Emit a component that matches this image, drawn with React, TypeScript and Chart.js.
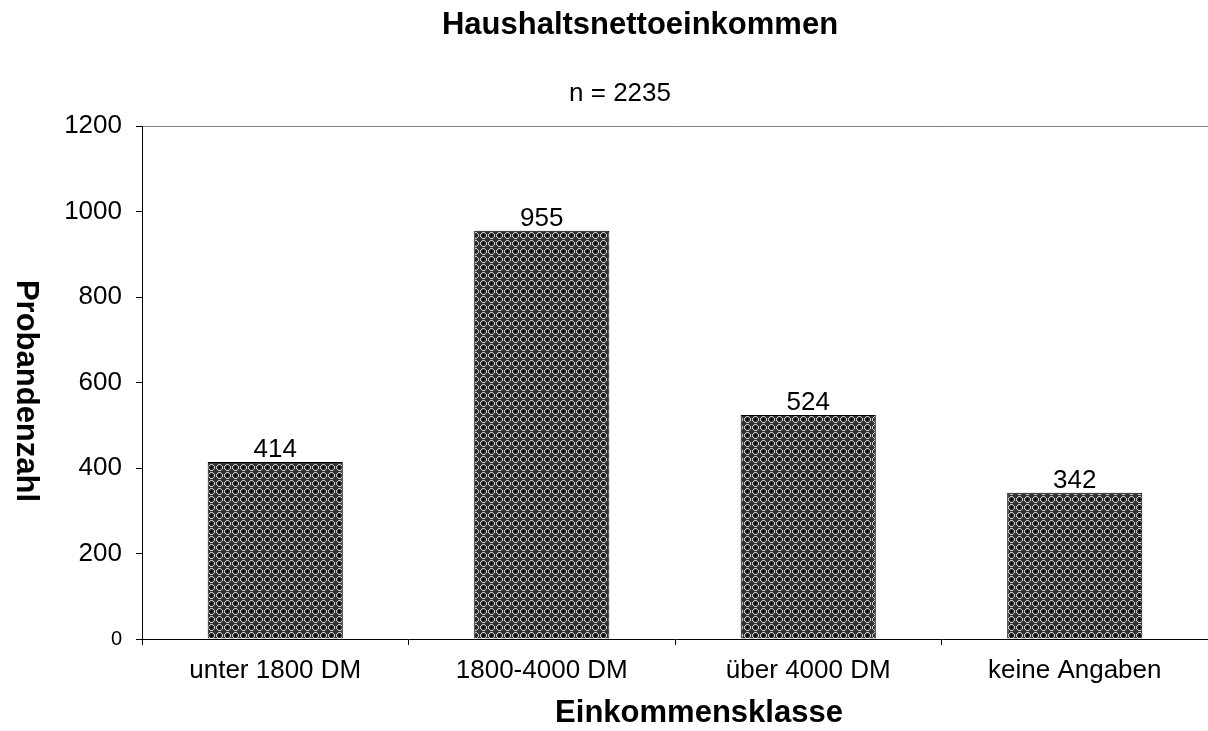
import React, { useEffect, useRef } from "react";
import { Chart, registerables } from "chart.js";

Chart.register(...registerables);

const categories = ["unter 1800 DM", "1800-4000 DM", "über 4000 DM", "keine Angaben"];
const values = [414, 955, 524, 342];
const yMin = 0;
const yMax = 1200;
const yStep = 200;
const chartTitle = "Haushaltsnettoeinkommen";
const chartSubtitle = "n = 2235";
const xTitle = "Einkommensklasse";
const yTitle = "Probandenzahl";

const FONT = "'Liberation Sans', Arial, Helvetica, sans-serif";

function makePattern(): CanvasPattern | string {
  const c = document.createElement("canvas");
  c.width = 8;
  c.height = 8;
  const g = c.getContext("2d");
  if (!g) return "#4a4a4a";
  const map = [
    "..###...",
    ".#...#..",
    "#..+..#.",
    "#.+++.#.",
    "#..+..#.",
    ".#...#..",
    "..###...",
    "........",
  ];
  for (let y = 0; y < 8; y++) {
    for (let x = 0; x < 8; x++) {
      const ch = map[y][x];
      g.fillStyle = ch === "#" ? "#c4c4c4" : ch === "+" ? "#000000" : "#333333";
      g.fillRect(x, y, 1, 1);
    }
  }
  const p = g.createPattern(c, "repeat");
  return p || "#4a4a4a";
}

const textPlugin = {
  id: "customText",
  afterDraw(chart: any) {
    const ctx = chart.ctx;
    ctx.save();
    ctx.fillStyle = "#000";
    ctx.textAlign = "center";
    ctx.textBaseline = "middle";
    ctx.font = `bold 31px ${FONT}`;
    ctx.fillText(chartTitle, 640, 25);
    ctx.font = `26px ${FONT}`;
    ctx.fillText(chartSubtitle, 620, 94);
    ctx.font = `bold 31px ${FONT}`;
    ctx.fillText(xTitle, 699, 713);
    ctx.save();
    ctx.translate(26, 391);
    ctx.rotate(Math.PI / 2);
    ctx.fillText(yTitle, 0, 0);
    ctx.restore();
    // data labels
    ctx.font = `26px ${FONT}`;
    ctx.textBaseline = "alphabetic";
    const meta = chart.getDatasetMeta(0);
    meta.data.forEach((el: any, i: number) => {
      ctx.fillText(String(chart.data.datasets[0].data[i]), el.x, el.y - 5);
    });
    ctx.restore();
  },
};

export default function App() {
  const ref = useRef<HTMLCanvasElement | null>(null);
  useEffect(() => {
    if (!ref.current) return;
    const pattern = makePattern();
    const chart = new Chart(ref.current, {
      type: "bar",
      data: {
        labels: categories,
        datasets: [
          {
            data: values,
            backgroundColor: pattern as any,
            borderColor: "#000",
            borderWidth: 1,
            categoryPercentage: 1,
            barPercentage: 0.507,
          },
        ],
      },
      options: {
        animation: false,
        responsive: true,
        maintainAspectRatio: false,
        layout: { padding: { top: 126, left: 0, right: 0, bottom: 0 } },
        plugins: {
          legend: { display: false },
          title: { display: false },
          tooltip: { enabled: false },
        },
        scales: {
          x: {
            offset: true,
            grid: {
              offset: true,
              drawOnChartArea: false,
              drawTicks: true,
              tickLength: 6,
              tickColor: "#000",
            },
            border: { color: "#000", width: 1 },
            ticks: {
              color: "#000",
              padding: 10,
              font: { family: FONT, size: 26 },
              maxRotation: 0,
              autoSkip: false,
            },
            afterFit(scale: any) {
              scale.height = 92;
            },
          },
          y: {
            min: yMin,
            max: yMax,
            ticks: {
              stepSize: yStep,
              color: "#000",
              padding: 14,
              callback: (v: any) => String(v),
              font: (c: any) =>
                c.tick && c.tick.value === 0
                  ? { family: FONT, size: 20 }
                  : { family: FONT, size: 26 },
            },
            grid: {
              color: (c: any) => (c.tick && c.tick.value === yMax ? "#808080" : "rgba(0,0,0,0)"),
              tickColor: "#000",
              tickLength: 6,
              drawTicks: true,
            },
            border: { color: "#000", width: 1 },
            afterFit(scale: any) {
              scale.width = 142;
            },
          },
        },
      },
      plugins: [textPlugin],
    });
    return () => chart.destroy();
  }, []);
  return (
    <div style={{ position: "fixed", left: 0, top: 0, width: 1208, height: 731, background: "#fff" }}>
      <canvas ref={ref} />
    </div>
  );
}
